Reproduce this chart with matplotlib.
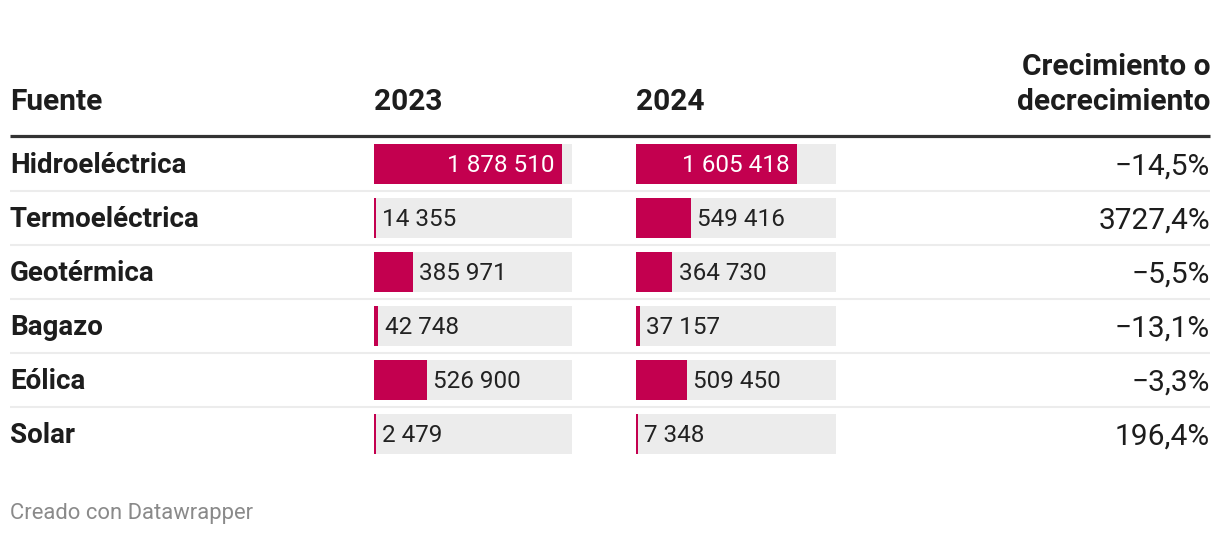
import numpy as np
import matplotlib.pyplot as plt

plt.rcParams['font.family'] = ['Roboto', 'DejaVu Sans']

fuentes = ["Hidroeléctrica", "Termoeléctrica", "Geotérmica", "Bagazo", "Eólica", "Solar"]
valores_2023 = [1878510, 14355, 385971, 42748, 526900, 2479]
valores_2024 = [1605418, 549416, 364730, 37157, 509450, 7348]
crecimiento = [-14.5, 3727.4, -5.5, -13.1, -3.3, 196.4]
encabezados = ["Fuente", "2023", "2024", "Crecimiento o\ndecrecimiento"]

W, H = 1220, 536
BAR_COLOR = "#c3004f"
BG_COLOR = "#ececec"
TEXT = "#1d1d1d"
X_MAX = 2_000_000
HEAD_FS = 21.5
ROW_FS = 20
NUM_FS = 17.5
PCT_FS = 21.5


def fmt_num(v):
    return f"{v:,}".replace(",", " ")


def fmt_pct(v):
    s = f"{abs(v):.1f}".replace(".", ",") + "%"
    return ("\u2212" + s) if v < 0 else s


fig = plt.figure(figsize=(W / 100, H / 100), dpi=100)
ax = fig.add_axes([0, 0, 1, 1])
ax.set_xlim(0, W)
ax.set_ylim(H, 0)
ax.axis("off")

rows = np.arange(len(fuentes))
centers = 164 + 54 * rows

# header
ax.text(10, 110, encabezados[0], fontsize=HEAD_FS, fontweight="bold", color=TEXT, va="baseline")
ax.text(374, 110, encabezados[1], fontsize=HEAD_FS, fontweight="bold", color=TEXT, va="baseline")
ax.text(636, 110, encabezados[2], fontsize=HEAD_FS, fontweight="bold", color=TEXT, va="baseline")
l1, l2 = encabezados[3].split("\n")
ax.text(1210, 75, l1, fontsize=HEAD_FS, fontweight="bold", color=TEXT, va="baseline", ha="right")
ax.text(1210, 110, l2, fontsize=HEAD_FS, fontweight="bold", color=TEXT, va="baseline", ha="right")

ax.plot([10, 1210], [136, 136], color="#333333", lw=2.3, solid_capstyle="butt")
for c in centers[:-1]:
    ax.plot([10, 1210], [c + 27, c + 27], color="#ececec", lw=1.5, solid_capstyle="butt")

for c, name, g in zip(centers, fuentes, crecimiento):
    ax.text(10, c + 9, name, fontsize=ROW_FS, fontweight="bold", color=TEXT, va="baseline")
    ax.text(1210, c + 11, fmt_pct(g), fontsize=PCT_FS, color=TEXT, va="baseline", ha="right")

# bar columns
for left, width, vals in [(374, 198, valores_2023), (636, 200, valores_2024)]:
    bx = fig.add_axes([left / W, 0, width / W, 1])
    bx.set_xlim(0, X_MAX * width / 200)
    bx.set_ylim(H, 0)
    bx.axis("off")
    bx.barh(centers, [X_MAX * width / 200] * len(vals), height=40, color=BG_COLOR, left=0)
    shown = np.maximum(vals, X_MAX * 2 / 200)
    bx.barh(centers, shown, height=40, color=BAR_COLOR)
    for c, v, s in zip(centers, vals, shown):
        if v / X_MAX > 0.6:
            bx.annotate(fmt_num(v), xy=(s, c + 8.5), xytext=(-5, 0), textcoords="offset points",
                        ha="right", va="baseline", fontsize=NUM_FS, color="white")
        else:
            bx.annotate(fmt_num(v), xy=(s, c + 8.5), xytext=(4.5, 0), textcoords="offset points",
                        ha="left", va="baseline", fontsize=NUM_FS, color="#222222")

ax.text(10, 519, "Creado con Datawrapper", fontsize=15.8, color="#8a8a8a", va="baseline")

fig.savefig("out.png", dpi=100)
